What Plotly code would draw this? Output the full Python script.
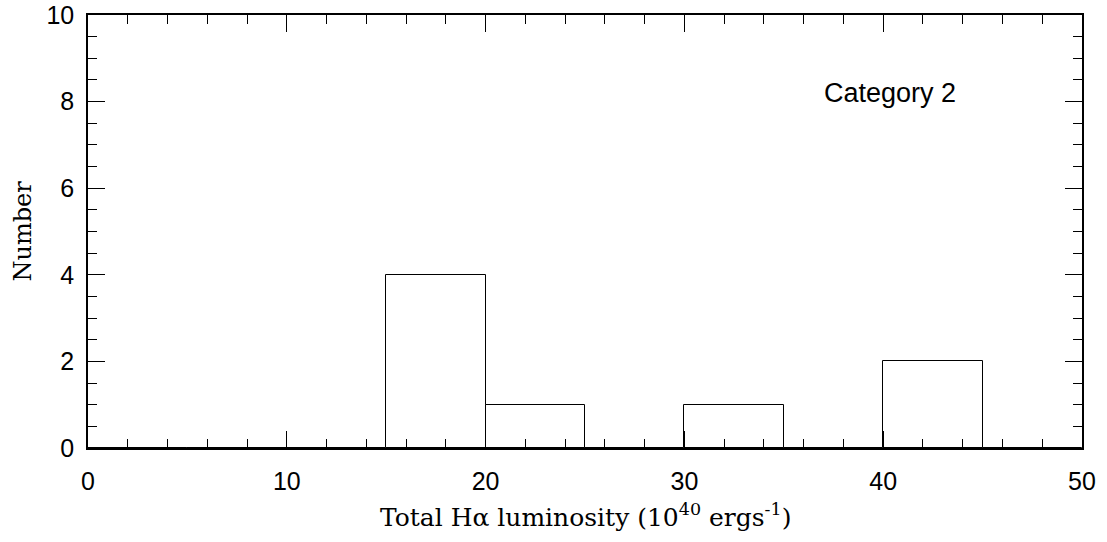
import plotly.graph_objects as go

bin_left = [0, 5, 10, 15, 20, 25, 30, 35, 40, 45]
bin_width = 5
counts = [0, 0, 0, 4, 1, 0, 1, 0, 2, 0]
x_ticks = [0, 10, 20, 30, 40, 50]
y_ticks = [0, 2, 4, 6, 8, 10]
x_title = "Total Hα luminosity (10<sup>40</sup> ergs<sup>-1</sup>)"
y_title = "Number"
label = "Category 2"

fig = go.Figure()
fig.add_trace(go.Bar(
    x=[b + bin_width / 2 for b in bin_left],
    y=counts,
    width=[bin_width] * len(bin_left),
    marker=dict(color="white", line=dict(color="black", width=1)),
    showlegend=False,
))

fig.add_annotation(x=36.9, y=8.2, text=label, showarrow=False,
                   xanchor="left", yanchor="middle",
                   font=dict(family="Liberation Sans, Arial", size=27, color="black"))

fig.add_annotation(x=0.5, y=0, xref="paper", yref="paper", text=x_title,
                   showarrow=False, xanchor="center", yanchor="middle", yshift=-67,
                   font=dict(family="DejaVu Serif", size=25, color="black"))
fig.add_annotation(x=0, y=0.5, xref="paper", yref="paper", text=y_title,
                   showarrow=False, xanchor="center", yanchor="middle", xshift=-66,
                   textangle=-90,
                   font=dict(family="DejaVu Serif", size=24, color="black"))

axis_common = dict(
    showline=True, linecolor="black", linewidth=1.5, mirror="allticks",
    ticks="inside", ticklen=17, tickwidth=1, tickcolor="black",
    showgrid=False, zeroline=False, automargin=False,
    ticklabeloverflow="allow",
    tickfont=dict(family="Liberation Sans, Arial", size=25, color="black"),
)

fig.update_xaxes(
    range=[0, 50], tickvals=x_ticks,
    minor=dict(dtick=2, ticks="inside", ticklen=9, tickcolor="black", tickwidth=1, showgrid=False),
    ticklabelstandoff=10,
    **axis_common,
)
fig.update_yaxes(
    range=[0, 10], tickvals=y_ticks,
    minor=dict(dtick=0.5, ticks="inside", ticklen=9, tickcolor="black", tickwidth=1, showgrid=False),
    ticklabelstandoff=7,
    **axis_common,
)

fig.update_layout(
    width=1107, height=542,
    margin=dict(l=88, r=25, t=15, b=94),
    plot_bgcolor="white", paper_bgcolor="white",
    bargap=0,
)

fig.write_html("out.html", config={"displayModeBar": False},
               post_script="document.body.style.margin='0';document.body.style.overflow='hidden';")
